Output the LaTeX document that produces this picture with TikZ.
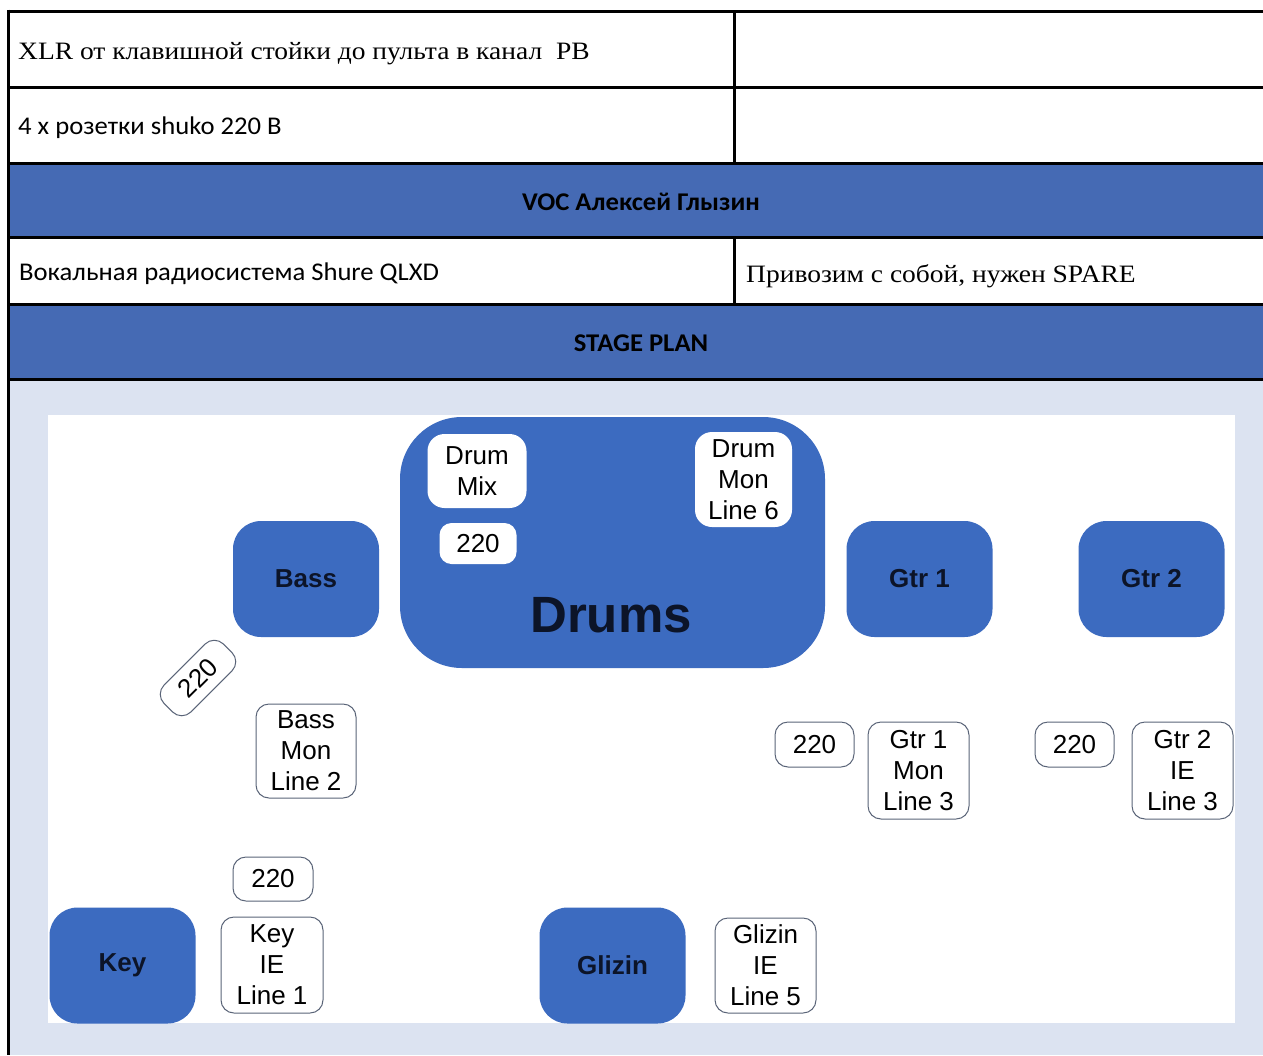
\documentclass[tikz,border=0pt]{standalone}
\usepackage{fontspec}
\setmainfont{Liberation Serif}
\newfontfamily\serifw[FakeStretch=1.10]{Liberation Serif}
\newfontfamily\calib[FakeStretch=1.045]{Carlito}
\newfontfamily\arialf{Liberation Sans}
\definecolor{hdrblue}{HTML}{456AB4}
\definecolor{stageblue}{HTML}{3C6BC0}
\definecolor{panelbg}{HTML}{DCE3F1}
\definecolor{boxline}{HTML}{5A6478}
\definecolor{lbltext}{HTML}{0C1428}
\begin{document}
\begin{tikzpicture}[x=1pt,y=-1pt,
  rule/.style={line width=3pt, black},
  serifcell/.style={anchor=base west, inner sep=0pt, font=\serifw\fontsize{25}{30}\selectfont},
  sanscell/.style={anchor=base west, inner sep=0pt, font=\calib\fontsize{25.5}{30}\selectfont},
  hdrcell/.style={anchor=base, inner sep=0pt, font=\calib\bfseries\fontsize{25.5}{30}\selectfont},
  player/.style={fill=stageblue, rounded corners=28pt, minimum width=146pt, minimum height=116pt,
     inner sep=0pt, text=lbltext, font=\arialf\bfseries\fontsize{26}{31}\selectfont},
  tagbox/.style={draw=boxline, line width=1pt, fill=white, rounded corners=13pt, inner sep=0pt,
     align=center, font=\arialf\fontsize{26}{31}\selectfont},
  innerbox/.style={fill=white, rounded corners=17pt, inner sep=0pt,
     align=center, font=\arialf\fontsize{26}{31}\selectfont}
]
\useasboundingbox (0,0) rectangle (1263,1055);
\fill[white] (0,0) rectangle (1263,1055);
% fills
\fill[hdrblue] (8,163) rectangle (1263,237);
\fill[hdrblue] (8,304) rectangle (1263,379);
\fill[panelbg] (8,379) rectangle (1263,1055);
\fill[white] (48,415) rectangle (1235,1023);
% table rules
\foreach \yy in {11,87,163,237,304,379} {\draw[rule] (7,\yy) -- (1263,\yy);}
\draw[rule] (8.5,9.5) -- (8.5,1055);
\draw[rule] (734,11) -- (734,163);
\draw[rule] (734,237) -- (734,304);
% table text
\node[serifcell] (t1) at (18,59.5) {XLR от клавишной стойки до пульта в канал\ \ PB};
\node[sanscell] (t2) at (18,134) {4 x розетки shuko 220 B};
\node[hdrcell] (t3) at (641,210) {VOC Алексей Глызин};
\node[sanscell] (t4) at (19,280) {Вокальная радиосистема Shure QLXD};
\node[serifcell] (t5) at (746,282) {Привозим с собой, нужен SPARE};
\node[hdrcell] (t6) at (641,351) {STAGE PLAN};
% stage plan
\node[fill=stageblue, rounded corners=62pt, minimum width=425pt, minimum height=251pt, inner sep=0pt] (drums) at (612.5,542.5) {};
\node[text=lbltext, font=\arialf\bfseries\fontsize{51}{57}\selectfont, inner sep=0pt] (drumslbl) at (611,615) {Drums};
\node[innerbox, minimum width=99pt, minimum height=74pt] (drummix) at (477,471) {Drum\\Mix};
\node[innerbox, minimum width=77pt, minimum height=41pt, rounded corners=12pt] (drum220) at (478,543.5) {220};
\node[innerbox, minimum width=97pt, minimum height=95pt] (drummon) at (743.5,479.5) {Drum\\Mon\\Line 6};
\node[player] (bass) at (306,579) {Bass};
\node[player] (gtr1) at (919.5,579) {Gtr 1};
\node[player] (gtr2) at (1151.5,579) {Gtr 2};
\node[player] (key) at (122.5,965.5) {Key};
\node[player] (glizin) at (612.5,965.5) {Glizin};
\node[tagbox, rotate=45, minimum width=84pt, minimum height=38pt] (bass220) at (198,678) {220};
\node[tagbox, minimum width=100pt, minimum height=94pt] (bassmon) at (306,751) {Bass\\Mon\\Line 2};
\node[tagbox, minimum width=79pt, minimum height=45pt] (g1220) at (814.5,744.5) {220};
\node[tagbox, minimum width=101pt, minimum height=97pt] (g1mon) at (918.5,770.5) {Gtr 1\\Mon\\Line 3};
\node[tagbox, minimum width=79pt, minimum height=45pt] (g2220) at (1074.5,744.5) {220};
\node[tagbox, minimum width=101pt, minimum height=97pt] (g2ie) at (1182.5,770.5) {Gtr 2\\IE\\Line 3};
\node[tagbox, minimum width=80pt, minimum height=44pt] (key220) at (273,879) {220};
\node[tagbox, minimum width=102pt, minimum height=96pt] (keyie) at (272,965) {Key\\IE\\Line 1};
\node[tagbox, minimum width=101pt, minimum height=95pt] (glizinie) at (765.5,965.5) {Glizin\\IE\\Line 5};
\end{tikzpicture}
\end{document}
